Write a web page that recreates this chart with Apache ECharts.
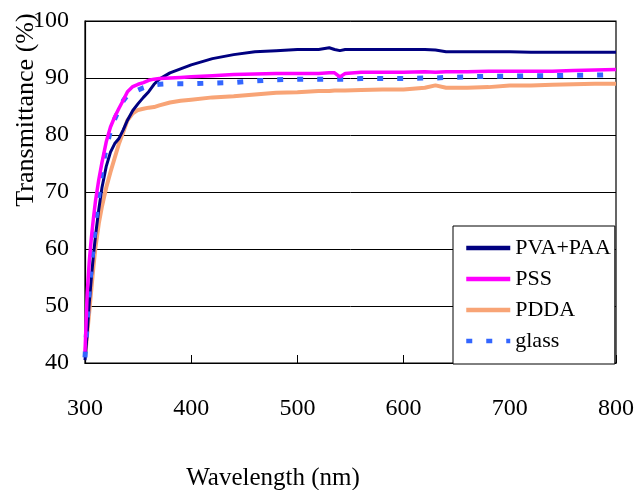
<!DOCTYPE html>
<html>
<head>
<meta charset="utf-8">
<script src="https://cdn.jsdelivr.net/npm/echarts@6/dist/echarts.min.js"></script>
<style>
html,body{margin:0;padding:0;background:#fff;}
#c{width:637px;height:490px;}
</style>
</head>
<body>
<div id="c"></div>
<script>
// Wavelength samples (nm)
var wavelengths = [300,302,304,306,308,310,313,316,320,324,328,332,336,340,345,350,355,360,365,370,380,390,400,420,440,460,480,500,520,530,535,540,545,560,580,600,620,630,640,660,680,700,720,740,760,780,800];
// Transmittance (%) per series
var pvaPaa = [40.5,45,50.5,55,59,62.5,67,70.8,74.5,77,78.5,79.4,80.9,82.6,84.3,85.5,86.6,87.6,88.9,89.8,90.9,91.6,92.3,93.4,94.1,94.6,94.8,95.0,95.0,95.3,95.0,94.8,95.0,95.0,95.0,95.0,95.0,94.9,94.6,94.6,94.6,94.6,94.5,94.5,94.5,94.5,94.5];
var pss = [42,52,57.8,62,65.5,68.6,72.2,75.2,78.8,81.4,83.2,84.7,86.1,87.6,88.5,88.9,89.2,89.6,89.8,89.9,90.0,90.1,90.2,90.4,90.6,90.7,90.8,90.8,90.8,90.9,90.9,90.2,90.8,91.0,91.0,91.0,91.1,91.0,91.1,91.1,91.2,91.2,91.2,91.2,91.3,91.4,91.5];
var pdda = [41,45,49,53,57,60.5,64.5,67.5,70.8,73.5,76,78.5,80.5,82.6,83.8,84.4,84.6,84.8,84.9,85.2,85.7,86.0,86.2,86.6,86.8,87.1,87.4,87.5,87.7,87.7,87.8,87.8,87.8,87.9,88.0,88.0,88.3,88.7,88.3,88.3,88.4,88.7,88.7,88.8,88.9,89.0,89.0];
var glass = [41,47,53,57,61,64.8,69.5,73.8,77.8,80.7,82.8,84.5,86,87,87.6,87.9,88.3,88.6,88.8,88.9,89.0,89.0,89.0,89.1,89.2,89.5,89.7,89.8,89.8,89.8,89.8,89.8,89.8,89.9,89.9,89.9,90.0,90.0,90.1,90.2,90.3,90.3,90.4,90.4,90.5,90.5,90.6];
var seriesNames = ['PVA+PAA','PSS','PDDA','glass'];
var xTicks = [300,400,500,600,700,800];
var yTicks = [40,50,60,70,80,90,100];

function pairs(vals){ return wavelengths.map(function(w,i){ return [w, vals[i]]; }); }

var font = '"Liberation Serif","Times New Roman",serif';
var chart = echarts.init(document.getElementById('c'), null, {renderer:'canvas'});
chart.setOption({
  animation:false,
  backgroundColor:'#fff',
  grid:{left:85, top:21, right:18, bottom:127, show:true, borderColor:'#000', borderWidth:1.2, backgroundColor:'transparent'},
  xAxis:{
    type:'value', min:xTicks[0], max:xTicks[xTicks.length-1], interval:100,
    axisLine:{show:true, lineStyle:{color:'#000', width:1.2}},
    axisTick:{show:true, inside:true, length:8, lineStyle:{color:'#000', width:1}},
    splitLine:{show:false},
    axisLabel:{color:'#000', fontFamily:font, fontSize:24, margin:34}
  },
  yAxis:{
    type:'value', min:yTicks[0], max:yTicks[yTicks.length-1], interval:10,
    axisLine:{show:true, lineStyle:{color:'#000', width:1.2}},
    axisTick:{show:false},
    splitLine:{show:true, lineStyle:{color:'#000', width:1}},
    axisLabel:{color:'#000', fontFamily:font, fontSize:24, margin:16}
  },
  legend:{
    orient:'vertical', left:453, top:226,
    padding:[11,4,12,11], itemGap:9, itemWidth:44, itemHeight:14,
    backgroundColor:'#fff', borderColor:'#000', borderWidth:1,
    itemStyle:{opacity:0},
    lineStyle:{width:4.5},
    textStyle:{color:'#000', fontFamily:font, fontSize:22, lineHeight:20},
    data:seriesNames
  },
  graphic:[
    {type:'text', x:26, y:110, rotation:Math.PI/2, style:{text:'Transmittance (%)', font:'26px "Liberation Serif", serif', fill:'#000', align:'center', verticalAlign:'middle'}},
    {type:'text', x:273, y:478, style:{text:'Wavelength (nm)', font:'25px "Liberation Serif", serif', fill:'#000', align:'center', verticalAlign:'middle'}}
  ],
  series:[
    {name:seriesNames[2], type:'line', data:pairs(pdda), symbol:'none', z:2,
     lineStyle:{color:'#F8A476', width:4}, itemStyle:{color:'#F8A476'}},
    {name:seriesNames[0], type:'line', data:pairs(pvaPaa), symbol:'none', z:3,
     lineStyle:{color:'#000080', width:3}, itemStyle:{color:'#000080'}},
    {name:seriesNames[3], type:'line', data:pairs(glass), symbol:'none', z:4,
     lineStyle:{color:'#3366FF', width:5, type:[6,14]}, itemStyle:{color:'#3366FF'}},
    {name:seriesNames[1], type:'line', data:pairs(pss), symbol:'none', z:5,
     lineStyle:{color:'#FF00FF', width:3.5}, itemStyle:{color:'#FF00FF'}}
  ]
});
</script>
</body>
</html>
